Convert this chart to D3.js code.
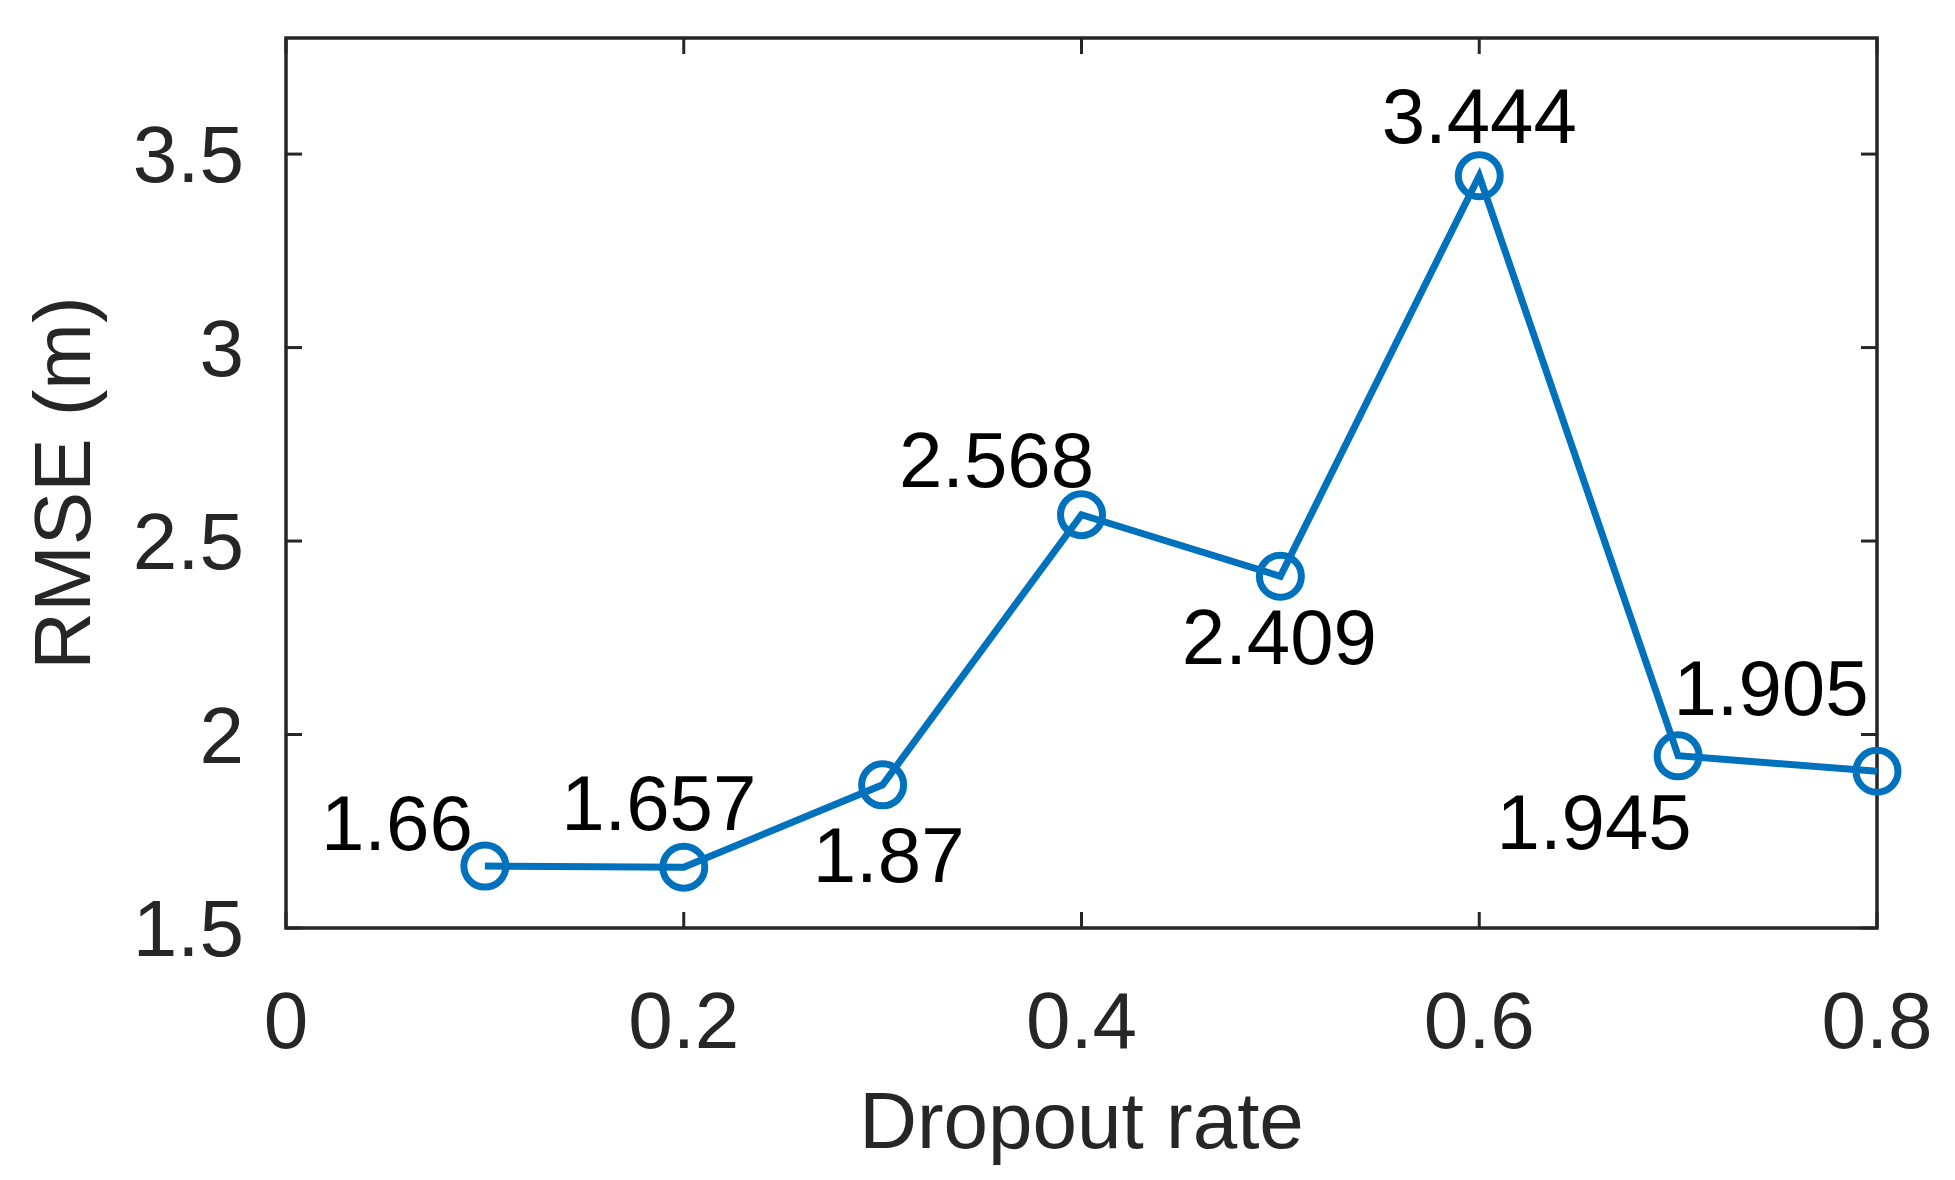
<!DOCTYPE html>
<html lang="en">
<head>
<meta charset="UTF-8">
<script src="https://d3js.org/d3.v7.min.js"></script>
<style>
  body { margin: 0; background: #fff; }
  svg { display: block; font-family: "Liberation Sans", Arial, sans-serif; }
</style>
</head>
<body>
<svg id="chart" width="1955" height="1180"></svg>
<script>
const rates = [0.1, 0.2, 0.3, 0.4, 0.5, 0.6, 0.7, 0.8];
const rmse = [1.66, 1.657, 1.87, 2.568, 2.409, 3.444, 1.945, 1.905];
const xTicks = [0, 0.2, 0.4, 0.6, 0.8];
const yTicks = [1.5, 2, 2.5, 3, 3.5];
// label offsets from the marker, in px
const labelOffsets = [[-88, -44], [-25, -65], [6, 69], [-85, -56], [-1, 60], [0, -61], [-84, 65], [-106, -84]];

const margin = {left: 286, right: 78, top: 38, bottom: 252};
const W = 1955, H = 1180;
const svg = d3.select('#chart');
const x = d3.scaleLinear().domain([0, 0.8]).range([margin.left, W - margin.right]);
const y = d3.scaleLinear().domain([1.5, 3.8]).range([H - margin.bottom, margin.top]);
const ink = '#262626';
const fs = 80;

svg.append('rect')
  .attr('x', x(0)).attr('y', y(3.8))
  .attr('width', x(0.8) - x(0)).attr('height', y(1.5) - y(3.8))
  .attr('fill', 'none').attr('stroke', ink).attr('stroke-width', 3.5);

const tick = 16;
xTicks.forEach(t => {
  svg.append('line').attr('x1', x(t)).attr('x2', x(t))
    .attr('y1', y(1.5)).attr('y2', y(1.5) - tick).attr('stroke', ink).attr('stroke-width', 3);
  svg.append('line').attr('x1', x(t)).attr('x2', x(t))
    .attr('y1', y(3.8)).attr('y2', y(3.8) + tick).attr('stroke', ink).attr('stroke-width', 3);
  svg.append('text').attr('x', x(t)).attr('y', y(1.5) + 120)
    .attr('text-anchor', 'middle').attr('font-size', fs).attr('fill', ink).text(t);
});
yTicks.forEach(t => {
  svg.append('line').attr('x1', x(0)).attr('x2', x(0) + tick)
    .attr('y1', y(t)).attr('y2', y(t)).attr('stroke', ink).attr('stroke-width', 3);
  svg.append('line').attr('x1', x(0.8)).attr('x2', x(0.8) - tick)
    .attr('y1', y(t)).attr('y2', y(t)).attr('stroke', ink).attr('stroke-width', 3);
  svg.append('text').attr('x', x(0) - 42).attr('y', y(t) + 28)
    .attr('text-anchor', 'end').attr('font-size', fs).attr('fill', ink).text(t);
});

svg.append('text').attr('x', (x(0) + x(0.8)) / 2).attr('y', 1148)
  .attr('text-anchor', 'middle').attr('font-size', fs).attr('fill', ink).text('Dropout rate');
svg.append('text').attr('transform', `translate(90,${(y(1.5) + y(3.8)) / 2}) rotate(-90)`)
  .attr('text-anchor', 'middle').attr('font-size', fs).attr('fill', ink).text('RMSE (m)');

const pts = rates.map((r, i) => [r, rmse[i]]);
svg.append('path').datum(pts)
  .attr('d', d3.line().x(d => x(d[0])).y(d => y(d[1])))
  .attr('fill', 'none').attr('stroke', '#0072BD').attr('stroke-width', 7);
svg.selectAll('circle.m').data(pts).enter().append('circle')
  .attr('cx', d => x(d[0])).attr('cy', d => y(d[1])).attr('r', 21)
  .attr('fill', 'none').attr('stroke', '#0072BD').attr('stroke-width', 7);

svg.selectAll('text.lab').data(pts).enter().append('text')
  .attr('x', (d, i) => x(d[0]) + labelOffsets[i][0])
  .attr('y', (d, i) => y(d[1]) + labelOffsets[i][1] + 28)
  .attr('text-anchor', 'middle').attr('font-size', 78).attr('fill', '#000')
  .text(d => d[1]);
</script>
</body>
</html>
